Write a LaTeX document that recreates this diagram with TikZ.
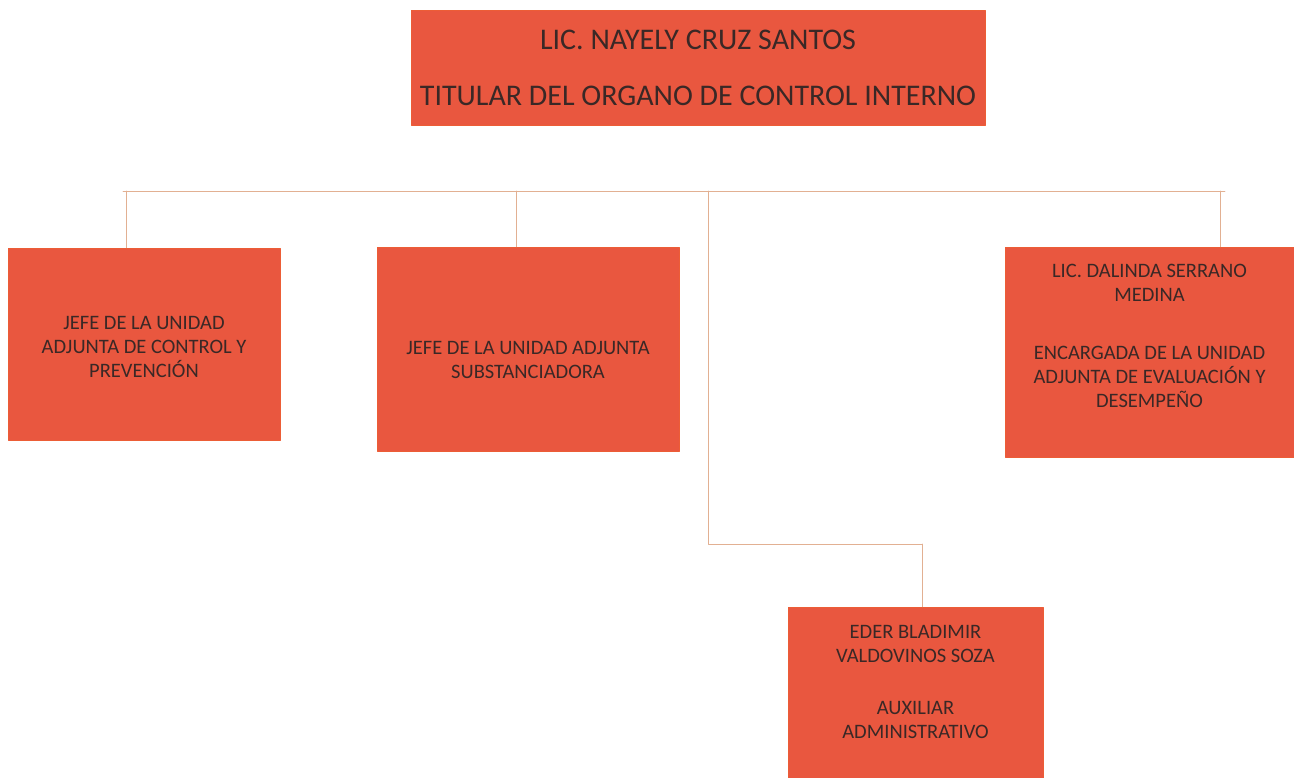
\documentclass[tikz,border=0pt]{standalone}
\usepackage{fontspec}
\setmainfont{Carlito}
\definecolor{unitfill}{HTML}{E9573F}
\definecolor{unitink}{HTML}{3A2826}
\definecolor{linkcol}{HTML}{E2B092}
\begin{document}
\begin{tikzpicture}[x=1pt, y=-1pt, line cap=round, line join=round]
	\tikzset{unit/.style={rectangle, fill=unitfill, draw=unitfill!85!orange, line width=0.8pt, inner sep=0pt},
		unittext/.style={text=unitink, align=center, font=\fontsize{20.5}{24}\selectfont},
		link/.style={draw=linkcol, line width=0.9pt}}
	\useasboundingbox (0,0) rectangle (1294,778);
	% cajas
	\node[unit, minimum width=574pt, minimum height=115pt] (titular) at (698,67.5) {};
	\node[unit, minimum width=272pt, minimum height=192pt] (control) at (144,344) {};
	\node[unit, minimum width=302pt, minimum height=204pt] (subst) at (528,349) {};
	\node[unit, minimum width=289pt, minimum height=210pt] (evalua) at (1149.5,352) {};
	\node[unit, minimum width=255pt, minimum height=172pt] (auxiliar) at (915.5,693) {};
	% textos
	\node[unittext, font=\fontsize{30}{56}\selectfont] (titulartxt) at (titular.center) {LIC. NAYELY CRUZ SANTOS\\TITULAR DEL ORGANO DE CONTROL INTERNO};
	\node[unittext] (controltxt) at (144,347) {JEFE DE LA UNIDAD\\ADJUNTA DE CONTROL Y\\PREVENCIÓN};
	\node[unittext] (substtxt) at (528,360) {JEFE DE LA UNIDAD ADJUNTA\\SUBSTANCIADORA};
	\node[unittext] (evaluatxt) at (1149.5,336) {LIC. DALINDA SERRANO\\MEDINA\\[34pt]ENCARGADA DE LA UNIDAD\\ADJUNTA DE EVALUACIÓN Y\\DESEMPEÑO};
	\node[unittext] (auxiliartxt) at (915.5,682) {EDER BLADIMIR\\VALDOVINOS SOZA\\[28pt]AUXILIAR\\ADMINISTRATIVO};
	% lineas
	\coordinate (busL) at (123,191);
	\coordinate (busR) at (1225,191);
	\coordinate (j1) at (126,191);
	\coordinate (j2) at (516,191);
	\coordinate (j3) at (708,191);
	\coordinate (j4) at (1220,191);
	\coordinate (k3) at (708,544);
	\coordinate (k4) at (922,544);
	\draw[link] (busL) -- (busR);
	\draw[link] (j1) -- (j1 |- control.north);
	\draw[link] (j2) -- (j2 |- subst.north);
	\draw[link] (j4) -- (j4 |- evalua.north);
	\draw[link] (j3) -- (k3) -- (k4);
	\draw[link] (k4) -- (k4 |- auxiliar.north);
\end{tikzpicture}
\end{document}
